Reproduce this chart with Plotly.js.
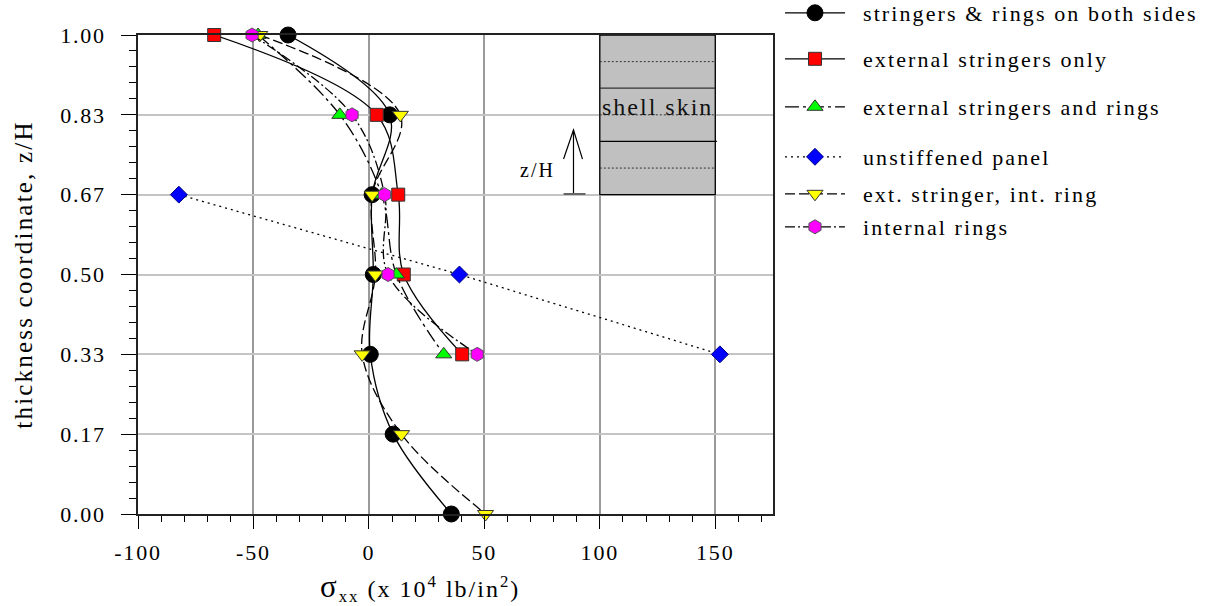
<!DOCTYPE html>
<html>
<head>
<meta charset="utf-8">
<script src="https://cdn.plot.ly/plotly-3.0.1.min.js"></script>
<style>
  html, body { margin: 0; padding: 0; background: #fff; }
  .xtick text, .ytick text { letter-spacing: 1.8px; }
  .infolayer g[class^="legend"] .scrollbox { clip-path: none !important; }
  .infolayer g[class^="legend"] text { letter-spacing: 2.1px; transform: translateX(13px); }
  .ytitle { letter-spacing: 2.2px; }
  .annotation-text { letter-spacing: 2px; }
</style>
</head>
<body>
<div id="chart" style="width:1206px;height:606px;"></div>
<script>
// thickness coordinate z/H at which stresses are reported
const zFull  = [1.0, 0.8333, 0.6667, 0.5, 0.3333, 0.1667, 0.0];
const zUpper = [1.0, 0.8333, 0.6667, 0.5, 0.3333];
const zPanel = [0.6667, 0.5, 0.3333];

// sigma_xx (x 10^4 lb/in^2)
const bothSides      = [-35, 9.0, 1.4, 1.9, 0.6, 10.5, 35.7];
const extStringers   = [-67, 3.4, 12.7, 15.1, 40.4];
const extStrRings    = [-48, -12.6, 5.5, 11.9, 32.4];
const unstiffened    = [-82.3, 39.2, 152];
const extStrIntRing  = [-47.3, 13.6, 1.4, 2.8, -2.9, 14.1, 50.5];
const internalRings  = [-50.6, -7.3, 6.8, 8.3, 46.9];

const names = [
  'stringers & rings on both sides',
  'external stringers only',
  'external stringers and rings',
  'unstiffened panel',
  'ext. stringer, int. ring',
  'internal rings'
];

// tick labels
const xTickVals = [-100, -50, 0, 50, 100, 150];
const xTickText = ['-100', '-50', '0', '50', '100', '150'];

const serif = 'Liberation Serif, Times New Roman, serif';
const lineW = 1.3;

const traces = [
  {x: bothSides, y: zFull, name: names[0], legend: 'legend',
   mode: 'lines+markers', line: {color: '#000', width: lineW, shape: 'spline', smoothing: 1},
   marker: {symbol: 'circle', size: 16, color: '#000', line: {color: '#000', width: 1}}},
  {x: extStringers, y: zUpper, name: names[1], legend: 'legend2',
   mode: 'lines+markers', line: {color: '#000', width: lineW, shape: 'spline', smoothing: 1},
   marker: {symbol: 'square', size: 13, color: '#ff0000', line: {color: '#333', width: 1}}},
  {x: extStrRings, y: zUpper, name: names[2], legend: 'legend3',
   mode: 'lines+markers', line: {color: '#000', width: lineW, shape: 'spline', smoothing: 1, dash: '14px,4px,3px,4px'},
   marker: {symbol: 'triangle-up', size: 14, color: '#00ff00', line: {color: '#333', width: 1}}},
  {x: unstiffened, y: zPanel, name: names[3], legend: 'legend4',
   mode: 'lines+markers', line: {color: '#000', width: lineW, dash: '2px,4px'},
   marker: {symbol: 'diamond', size: 13, color: '#0000ff', line: {color: '#000080', width: 1}}},
  {x: extStrIntRing, y: zFull, name: names[4], legend: 'legend5',
   mode: 'lines+markers', line: {color: '#000', width: lineW, shape: 'spline', smoothing: 1, dash: '10px,4px'},
   marker: {symbol: 'triangle-down', size: 14, color: '#ffff00', line: {color: '#333', width: 1}}},
  {x: internalRings, y: zUpper, name: names[5], legend: 'legend6',
   mode: 'lines+markers', line: {color: '#000', width: lineW, shape: 'spline', smoothing: 1, dash: '10px,3px,2px,3px'},
   marker: {symbol: 'hexagon', size: 14, color: '#ff00ff', line: {color: '#555', width: 1}}}
].map(t => Object.assign(t, {cliponaxis: false}));

function legendAt(py) {
  return {
    x: 1.011, xanchor: 'left', y: (514 - py) / 479, yanchor: 'middle',
    bgcolor: 'rgba(0,0,0,0)', borderwidth: 0, itemwidth: 60,
    font: {family: serif, size: 22, color: '#000'}
  };
}

const axisFont = {family: serif, size: 22, color: '#000'};

const layout = {
  width: 1206, height: 606,
  margin: {l: 138, r: 433, t: 35, b: 92, autoexpand: false},
  paper_bgcolor: '#fff', plot_bgcolor: '#fff',
  font: {family: serif, color: '#000'},
  showlegend: true,
  legend: legendAt(13),
  legend2: legendAt(59),
  legend3: legendAt(107),
  legend4: legendAt(157),
  legend5: legendAt(194),
  legend6: legendAt(227),
  xaxis: {
    range: [-100, 175], tickmode: 'array', tickvals: xTickVals, ticktext: xTickText,
    ticks: 'outside', ticklen: 13, tickwidth: 1.3, tickcolor: '#000',
    minor: {dtick: 10, tick0: -100, ticks: 'outside', ticklen: 6, tickwidth: 1.3, tickcolor: '#000', showgrid: false},
    showgrid: true, gridcolor: '#9a9a9a', gridwidth: 1.5,
    zeroline: false, showline: true, linecolor: '#222', linewidth: 1.5, mirror: true,
    tickfont: axisFont, ticklabelstandoff: 5
  },
  xaxis2: {
    overlaying: 'x', anchor: 'y', side: 'bottom',
    range: [-100, 175], tickmode: 'array', tickvals: xTickVals,
    ticks: 'inside', ticklen: 4, tickwidth: 1.3, tickcolor: '#000',
    minor: {dtick: 10, tick0: -100, ticks: 'inside', ticklen: 6, tickwidth: 1.3, tickcolor: '#000', showgrid: false},
    showgrid: false, zeroline: false, showline: false, showticklabels: false
  },
  yaxis: {
    range: [0, 1], tickmode: 'linear', tick0: 0, dtick: 1 / 6, tickformat: '.2f',
    ticks: 'outside', ticklen: 15, tickwidth: 1.3, tickcolor: '#000',
    minor: {dtick: 1 / 30, tick0: 0, ticks: 'outside', ticklen: 7, tickwidth: 1.3, tickcolor: '#000', showgrid: false},
    showgrid: true, gridcolor: '#c4c4c4', gridwidth: 2,
    zeroline: false, showline: true, linecolor: '#222', linewidth: 1.5, mirror: true,
    tickfont: axisFont, ticklabelstandoff: 11,
    title: {text: 'thickness coordinate, z/H', font: {family: serif, size: 25, color: '#000'}, standoff: 20}
  },
  yaxis2: {
    overlaying: 'y', anchor: 'x', side: 'left',
    range: [0, 1], tickmode: 'linear', tick0: 0, dtick: 1 / 6,
    ticks: 'inside', ticklen: 5, tickwidth: 1.3, tickcolor: '#000',
    minor: {dtick: 1 / 30, tick0: 0, ticks: 'inside', ticklen: 9, tickwidth: 1.3, tickcolor: '#000', showgrid: false},
    showgrid: false, zeroline: false, showline: false, showticklabels: false
  },
  shapes: [
    // shell skin inset
    {type: 'rect', xref: 'x', yref: 'y', x0: 100, x1: 150, y0: 0.6667, y1: 1.0,
     fillcolor: '#c0c0c0', line: {color: '#000', width: 1.3}, layer: 'between'},
    {type: 'line', xref: 'x', yref: 'y', x0: 100, x1: 150, y0: 0.8889, y1: 0.8889, line: {color: '#333', width: 1.3}},
    {type: 'line', xref: 'x', yref: 'y', x0: 100, x1: 150.7, y0: 0.7778, y1: 0.7778, line: {color: '#000', width: 1.3}},
    {type: 'line', xref: 'x', yref: 'y', x0: 100, x1: 150, y0: 0.9444, y1: 0.9444, line: {color: '#333', width: 1, dash: '2px,2px'}},
    {type: 'line', xref: 'x', yref: 'y', x0: 100, x1: 150, y0: 0.8333, y1: 0.8333, line: {color: '#333', width: 1, dash: '2px,2px'}},
    {type: 'line', xref: 'x', yref: 'y', x0: 100, x1: 150, y0: 0.7222, y1: 0.7222, line: {color: '#333', width: 1, dash: '2px,2px'}},
    // z/H arrow
    {type: 'line', xref: 'x', yref: 'y', x0: 88.6, x1: 88.6, y0: 0.6681, y1: 0.8017, line: {color: '#000', width: 1.2}},
    {type: 'path', xref: 'x', yref: 'y', path: 'M 84.3,0.741 L 88.6,0.8017 L 92.5,0.741', line: {color: '#000', width: 1.2}},
    {type: 'line', xref: 'x', yref: 'y', x0: 84.3, x1: 93.8, y0: 0.6681, y1: 0.6681, line: {color: '#666', width: 2}}
  ],
  annotations: [
    {xref: 'x', yref: 'y', x: 125, y: 0.849, text: 'shell skin', showarrow: false,
     font: {family: serif, size: 24, color: '#111'}, xanchor: 'center', yanchor: 'middle'},
    {xref: 'x', yref: 'y', x: 73, y: 0.718, text: 'z/H', showarrow: false,
     font: {family: serif, size: 20, color: '#000'}, xanchor: 'center', yanchor: 'middle'},
    {xref: 'paper', yref: 'paper', x: (420 - 138) / 635, y: (514 - 587) / 479,
     text: '<span style="font-size:31px">σ</span><sub>xx</sub> (x 10<sup>4</sup> lb/in<sup>2</sup>)',
     showarrow: false, font: {family: serif, size: 24, color: '#000'}, xanchor: 'center', yanchor: 'middle'}
  ]
};

Plotly.newPlot('chart', traces, layout, {displayModeBar: false, responsive: false});
</script>
</body>
</html>
